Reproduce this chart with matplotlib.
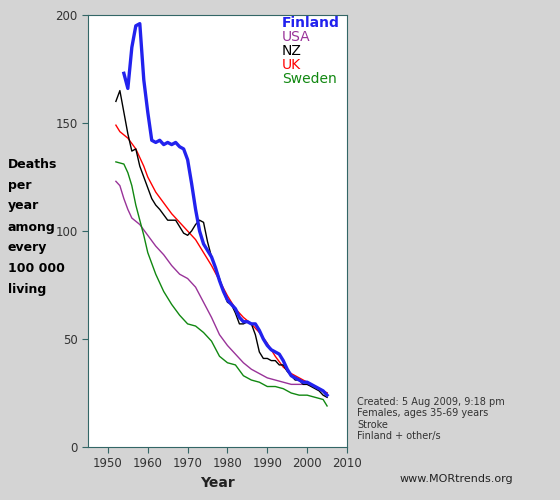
import matplotlib
matplotlib.use("Agg")
import matplotlib.pyplot as plt

# data
fin_years = list(range(1954, 2006))
fin_vals = [173, 166, 185, 195, 196, 170, 155, 142, 141, 142, 140, 141, 140, 141, 139, 138,
            133, 122, 110, 100, 94, 91, 88, 83, 77, 72, 68, 66, 64, 60, 58, 58, 57, 57, 54,
            50, 47, 45, 44, 43, 40, 36, 33, 32, 31, 30, 30, 29, 28, 27, 26, 24]
nz_years = [1952, 1953, 1954, 1955, 1956, 1957, 1958, 1960, 1961, 1962, 1963, 1965, 1967, 1968,
            1969, 1970, 1971, 1972, 1973, 1974, 1975, 1976, 1977, 1978, 1979, 1980, 1981, 1982,
            1983, 1984, 1985, 1986, 1987, 1988, 1989, 1990, 1991, 1992, 1993, 1994, 1995, 1996,
            1997, 1998, 1999, 2000, 2001, 2002, 2003, 2004, 2005]
nz_vals = [160, 165, 155, 145, 137, 138, 130, 120, 115, 112, 110, 105, 105, 102, 99, 98, 100,
           103, 105, 104, 95, 88, 83, 78, 72, 67, 66, 62, 57, 57, 58, 57, 52, 44, 41, 41, 40,
           40, 38, 38, 35, 33, 31, 31, 29, 29, 28, 27, 26, 24, 23]
uk_years = [1952, 1953, 1955, 1957, 1959, 1960, 1962, 1964, 1966, 1968, 1970, 1972, 1974, 1976,
            1978, 1980, 1982, 1984, 1986, 1988, 1990, 1992, 1994, 1996, 1998, 2000, 2002, 2004, 2005]
uk_vals = [149, 146, 143, 138, 130, 125, 118, 113, 108, 104, 100, 96, 90, 84, 77, 70, 64, 60,
           57, 53, 48, 42, 37, 34, 32, 30, 28, 26, 25]
usa_years = [1952, 1953, 1954, 1955, 1956, 1958, 1960, 1962, 1964, 1966, 1968, 1970, 1972, 1974,
             1976, 1978, 1980, 1982, 1984, 1986, 1988, 1990, 1992, 1994, 1996, 1998, 2000, 2002, 2004, 2005]
usa_vals = [123, 121, 115, 110, 106, 103, 98, 93, 89, 84, 80, 78, 74, 67, 60, 52, 47, 43, 39,
            36, 34, 32, 31, 30, 29, 29, 29, 28, 26, 25]
swe_years = [1952, 1954, 1955, 1956, 1957, 1958, 1959, 1960, 1962, 1964, 1966, 1968, 1970, 1972,
             1974, 1976, 1978, 1980, 1982, 1984, 1986, 1988, 1990, 1992, 1994, 1996, 1998, 2000,
             2002, 2004, 2005]
swe_vals = [132, 131, 127, 121, 112, 105, 98, 90, 80, 72, 66, 61, 57, 56, 53, 49, 42, 39, 38,
            33, 31, 30, 28, 28, 27, 25, 24, 24, 23, 22, 19]

bg = "#d4d4d4"
fig = plt.figure(figsize=(5.6, 5.0), dpi=100, facecolor=bg)
ax = fig.add_axes([88/560, 53/500, 259/560, 432/500])
ax.set_facecolor("white")

ax.plot(usa_years, usa_vals, color="#993399", lw=1)
ax.plot(swe_years, swe_vals, color="#118811", lw=1)
ax.plot(uk_years, uk_vals, color="#ff0000", lw=1)
ax.plot(nz_years, nz_vals, color="black", lw=1)
ax.plot(fin_years, fin_vals, color="#2222ee", lw=2.4)

ax.set_xlim(1945, 2010)
ax.set_ylim(0, 200)
ax.set_xticks(range(1950, 2011, 10))
ax.set_yticks(range(0, 201, 50))
for s in ax.spines.values():
    s.set_color("#336666")
ax.tick_params(colors="#336666", labelcolor="#333333", labelsize=8.5, length=4)
ax.set_xlabel("Year", fontsize=10, fontweight="bold", color="#222222")

legend = [("Finland", "#2222ee", "bold"), ("USA", "#993399", "normal"),
          ("NZ", "black", "normal"), ("UK", "#ff0000", "normal"), ("Sweden", "#118811", "normal")]
for i, (name, c, w) in enumerate(legend):
    fig.text(282/560, 1 - (23 + i * 14) / 500, name, color=c, fontweight=w,
             fontsize=10, va="center")

for i, t in enumerate(["Deaths", "per", "year", "among", "every", "100 000", "living"]):
    fig.text(8/560, 1 - (164 + i * 21) / 500, t, fontsize=9, fontweight="bold", va="center")

for i, t in enumerate(["Created: 5 Aug 2009, 9:18 pm", "Females, ages 35-69 years",
                       "Stroke", "Finland + other/s"]):
    fig.text(357/560, 1 - (402 + i * 11.5) / 500, t, fontsize=7, color="#333333", va="center")
fig.text(400/560, 1 - 479/500, "www.MORtrends.org", fontsize=8, color="#222222", va="center")

fig.savefig("out.png", dpi=100, facecolor=bg)
